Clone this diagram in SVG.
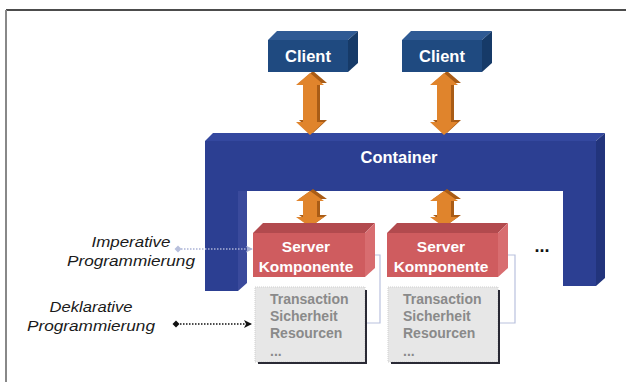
<svg xmlns="http://www.w3.org/2000/svg" xmlns:xlink="http://www.w3.org/1999/xlink" width="626" height="382" viewBox="0 0 626 382">
<defs>
<style>
.lbl{font-family:"Liberation Sans",Arial,sans-serif;font-style:italic;font-size:15px;fill:#1a1a1a;text-anchor:middle}
.wt{font-family:"Liberation Sans",Arial,sans-serif;font-weight:bold;fill:#ffffff;text-anchor:middle}
.gt{font-family:"Liberation Sans",Arial,sans-serif;font-weight:bold;font-size:14px;fill:#8a8a8a}
.cf{fill:#1f4a80}.ct{fill:#2f5a94}.cs{fill:#163a68}
.sf{fill:#cf5c5f}.st{fill:#b24a4e}.ss{fill:#d86d70}
.af{fill:#e0842c}.as{fill:#a95c16}
.gb{fill:#e7e7e7;stroke:#cfcfcf;stroke-width:1;stroke-dasharray:1 1}
.sh{fill:#2a2a35}
.br{fill:none;stroke:#b9c1de;stroke-width:1.2}
</style>
<polygon id="longArrow" points="0,0 -14,12 -7,12 -7,49 -14,49 0,62 14,49 7,49 7,12 14,12"/>
<polygon id="shortArrow" points="0,0 -14,10 -7,10 -7,26 -14,26 0,36 14,26 7,26 7,10 14,10"/>
<marker id="ah" viewBox="0 0 8 8" refX="7" refY="4" markerWidth="8" markerHeight="8" orient="auto" markerUnits="userSpaceOnUse">
<path d="M0,0 L8,4 L0,8 L2,4 Z" fill="#111"/>
</marker>
<marker id="ahl" viewBox="0 0 8 8" refX="7" refY="4" markerWidth="7" markerHeight="7" orient="auto" markerUnits="userSpaceOnUse">
<path d="M0,0 L8,4 L0,8 L2,4 Z" fill="#aab3d6"/>
</marker>
</defs>
<rect width="626" height="382" fill="#ffffff"/>
<g id="frame">
<line x1="6" y1="10" x2="626" y2="10" stroke="#111" stroke-width="1.5"/>
<line x1="6" y1="10" x2="6" y2="382" stroke="#888" stroke-width="2"/>
</g>
<g id="container">
<polygon points="205,141 213,133 605,133 596,141" fill="#34489f"/>
<polygon points="596,141 605,133 605,278 596,286" fill="#22347c"/>
<polygon points="205,141 596,141 596,286 563,286 563,191 238,191 238,291 205,291" fill="#2c3f92"/>
<polygon points="238,191 247,191 247,283 238,291" fill="#3a4a9c"/>
<text class="wt" x="399" y="163" font-size="16.5">Container</text>
</g>
<g id="connectors">
<g id="arrow1">
<use xlink:href="#longArrow" href="#longArrow" class="as" transform="translate(313,71)"/>
<use xlink:href="#longArrow" href="#longArrow" class="af" transform="translate(310,73)"/>
</g>
<g id="arrow2">
<use xlink:href="#longArrow" href="#longArrow" class="as" transform="translate(447,71)"/>
<use xlink:href="#longArrow" href="#longArrow" class="af" transform="translate(444,73)"/>
</g>
<g id="arrow3">
<use xlink:href="#shortArrow" href="#shortArrow" class="as" transform="translate(313,189)"/>
<use xlink:href="#shortArrow" href="#shortArrow" class="af" transform="translate(310,191)"/>
</g>
<g id="arrow4">
<use xlink:href="#shortArrow" href="#shortArrow" class="as" transform="translate(447,189)"/>
<use xlink:href="#shortArrow" href="#shortArrow" class="af" transform="translate(444,191)"/>
</g>
<polyline class="br" points="363,255 380,255 380,323 367,323"/>
<polyline class="br" points="497,255 515,255 515,323 500,323"/>
<line x1="181" y1="249" x2="252" y2="249" stroke="#aab3d6" stroke-width="1.5" stroke-dasharray="1.5 1.5" marker-end="url(#ahl)"/>
<polygon points="178,245.5 181.5,249 178,252.5 174.5,249" fill="#b8c0dc"/>
<line x1="180" y1="324" x2="251" y2="324" stroke="#111" stroke-width="1.3" stroke-dasharray="1.5 1.5" marker-end="url(#ah)"/>
<polygon points="176,320.5 179.5,324 176,327.5 172.5,324" fill="#111"/>
</g>
<g id="client1">
<polygon points="268,40 277,31 358,31 348,40" class="ct"/>
<polygon points="348,40 358,31 358,63 348,72" class="cs"/>
<rect x="268" y="40" width="80" height="32" class="cf"/>
<text class="wt" x="308" y="62" font-size="16.5">Client</text>
</g>
<g id="client2">
<polygon points="402,40 411,31 492,31 482,40" class="ct"/>
<polygon points="482,40 492,31 492,63 482,72" class="cs"/>
<rect x="402" y="40" width="80" height="32" class="cf"/>
<text class="wt" x="442" y="62" font-size="16.5">Client</text>
</g>
<g id="server1">
<polygon points="253,233 263,223 375,223 365,233" class="st"/>
<polygon points="365,233 375,223 375,268 365,277" class="ss"/>
<rect x="253" y="233" width="112" height="44" class="sf"/>
<text class="wt" x="306" y="252" font-size="15.5">Server</text>
<text class="wt" x="306" y="272" font-size="15.5">Komponente</text>
</g>
<g id="server2">
<polygon points="387,233 397,223 508,223 498,233" class="st"/>
<polygon points="498,233 508,223 508,268 498,277" class="ss"/>
<rect x="387" y="233" width="111" height="44" class="sf"/>
<text class="wt" x="441" y="252" font-size="15.5">Server</text>
<text class="wt" x="441" y="272" font-size="15.5">Komponente</text>
</g>
<g id="services1">
<rect x="255" y="287" width="110" height="75" class="gb"/>
<rect x="365" y="290" width="2" height="74" class="sh"/>
<rect x="258" y="362" width="109" height="2" class="sh"/>
<text class="gt" x="270" y="304">Transaction</text>
<text class="gt" x="270" y="321">Sicherheit</text>
<text class="gt" x="270" y="338">Resourcen</text>
<text class="gt" x="270" y="356" font-size="11">...</text>
</g>
<g id="services2">
<rect x="388" y="287" width="110" height="75" class="gb"/>
<rect x="498" y="290" width="2" height="74" class="sh"/>
<rect x="391" y="362" width="109" height="2" class="sh"/>
<text class="gt" x="403" y="304">Transaction</text>
<text class="gt" x="403" y="321">Sicherheit</text>
<text class="gt" x="403" y="338">Resourcen</text>
<text class="gt" x="403" y="356" font-size="11">...</text>
</g>
<g id="more">
<text x="542" y="252" font-family="Liberation Sans, Arial, sans-serif" font-weight="bold" font-size="18" fill="#111" text-anchor="middle">...</text>
</g>
<g id="label-imperative">
<text class="lbl" x="131" y="247" textLength="79" lengthAdjust="spacingAndGlyphs">Imperative</text>
<text class="lbl" x="131" y="266" textLength="128" lengthAdjust="spacingAndGlyphs">Programmierung</text>
</g>
<g id="label-deklarative">
<text class="lbl" x="91" y="312" textLength="83" lengthAdjust="spacingAndGlyphs">Deklarative</text>
<text class="lbl" x="91" y="331" textLength="128" lengthAdjust="spacingAndGlyphs">Programmierung</text>
</g>
</svg>
